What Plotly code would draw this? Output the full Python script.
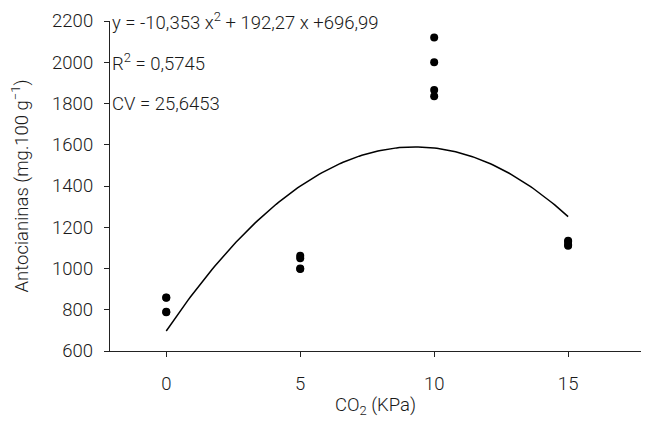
import numpy as np
import plotly.graph_objects as go

# Observed data (CO2 kPa vs antocianinas)
co2 = [0, 0, 0, 0, 5, 5, 5, 5, 10, 10, 10, 10, 15, 15, 15, 15]
antocianinas = [860, 858, 790, 788, 1062, 1050, 1000, 998,
                2120, 2000, 1865, 1835, 1135, 1130, 1115, 1110]

# Fitted quadratic coefficients shown on the chart
coef_a = -10.353
coef_b = 192.27
coef_c = 696.99
fit_x = np.linspace(0, 15, 151)
fit_y = coef_a * fit_x**2 + coef_b * fit_x + coef_c

x_ticks = [0, 5, 10, 15]
y_ticks = [600, 800, 1000, 1200, 1400, 1600, 1800, 2000, 2200]

annot_lines = ["y = -10,353 x<sup>2</sup> + 192,27 x +696,99",
               "R<sup>2</sup> = 0,5745",
               "CV = 25,6453"]
annot_y = [2200, 2000, 1800]

FONT = "Roboto, Liberation Sans, Arial, sans-serif"
TXT = "#1a1a1a"
FS = 18.5
FW = 300

fig = go.Figure()
fig.add_trace(go.Scatter(x=fit_x, y=fit_y, mode="lines",
                         line=dict(color="black", width=1.5),
                         hoverinfo="skip", showlegend=False))
fig.add_trace(go.Scatter(x=co2, y=antocianinas, mode="markers",
                         marker=dict(color="black", size=8),
                         showlegend=False))

for t, yv in zip(annot_lines, annot_y):
    fig.add_annotation(x=0, xref="paper", xanchor="left", xshift=0,
                       y=yv, yref="y", yanchor="middle",
                       text=t, showarrow=False,
                       font=dict(family=FONT, size=FS, color=TXT, weight=FW))

# page body adds an 8px margin, so the figure is sized to fill the window exactly
fig.update_layout(
    width=638, height=410,
    margin=dict(l=102, r=5, t=13, b=67, autoexpand=False),
    paper_bgcolor="white", plot_bgcolor="white",
    font=dict(family=FONT, size=FS, color=TXT, weight=FW),
    xaxis=dict(range=[-2.1, 17.72], tickvals=x_ticks,
               showgrid=False, zeroline=False, automargin=False,
               showline=True, linecolor="#222", linewidth=1.3,
               ticks="outside", ticklen=5, tickcolor="#222",
               ticklabelstandoff=11,
               tickfont=dict(size=FS, weight=FW),
               title=dict(text="CO<sub>2</sub> (KPa)", standoff=13,
                          font=dict(size=FS, weight=FW))),
    yaxis=dict(range=[600, 2200], tickvals=y_ticks,
               showgrid=False, zeroline=False, automargin=False,
               showline=True, linecolor="#222", linewidth=1.3,
               ticks="outside", ticklen=5, tickcolor="#222",
               ticklabelstandoff=7,
               tickfont=dict(size=FS, weight=FW),
               title=dict(text="Antocianinas (mg.100 g<sup>\u22121</sup>)", standoff=20,
                          font=dict(size=FS, weight=FW))),
)

fig.write_html("out.html")
